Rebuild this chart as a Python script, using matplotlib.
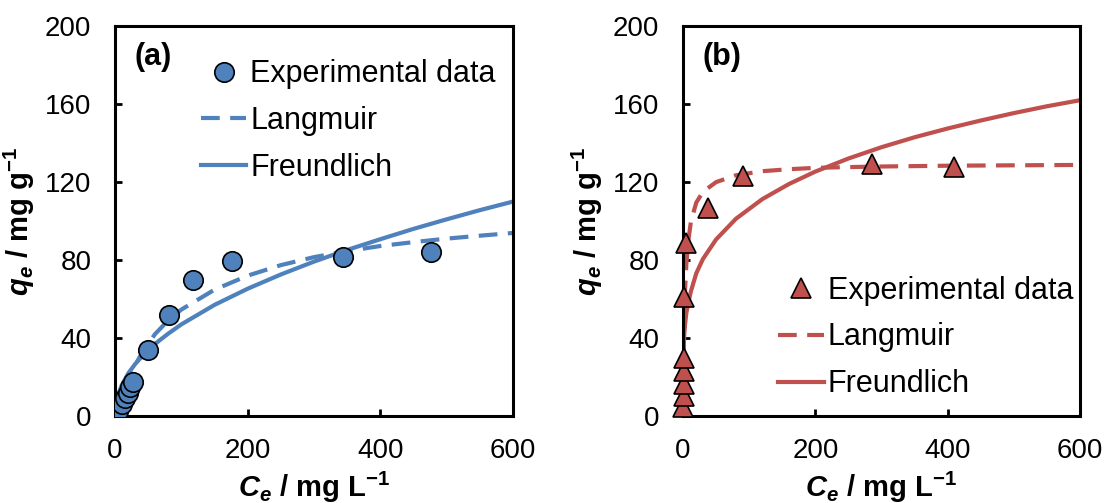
import matplotlib
matplotlib.use("Agg")
import matplotlib.pyplot as plt

plt.rcParams['font.family'] = ['Liberation Sans', 'DejaVu Sans']
plt.rcParams['mathtext.fontset'] = 'custom'
plt.rcParams['mathtext.rm'] = 'Liberation Sans'
plt.rcParams['mathtext.it'] = 'Liberation Sans:italic'
plt.rcParams['mathtext.bf'] = 'Liberation Sans:bold'
plt.rcParams['mathtext.bfit'] = 'Liberation Sans:italic:bold'

# (a) experimental data
ce_a = [4, 10, 15, 20, 23, 27, 50, 81, 118, 176, 344, 477]
qe_a = [2.6, 6, 9, 12, 15, 17.5, 34, 52, 70, 79.5, 81.5, 84]
# (a) fitted curves
c_fit_a = [0, 0.5, 1, 2, 5, 10, 20, 30, 40, 60, 80, 100, 150, 200, 250, 300, 350, 400, 450, 500, 550, 600]
lang_a = [0, 0.6, 1.1, 2.2, 5.4, 10.3, 18.8, 25.9, 32.0, 41.9, 49.0, 54.6, 64.8, 72.0, 77.4, 81.5,
          84.6, 87.2, 89.2, 91.0, 92.5, 93.9]
freu_a = [0, 3.8, 5.3, 7.3, 11.3, 15.7, 21.9, 26.5, 30.4, 36.9, 42.2, 47.0, 57.0, 65.3, 72.6, 79.2,
          85.2, 90.7, 96.0, 100.9, 105.6, 110.0]

# (b) experimental data
ce_b = [0.5, 0.7, 0.9, 1.1, 1.3, 1.5, 4, 38, 90, 286, 410]
qe_b = [4.5, 10.5, 16.5, 23, 30, 61, 89, 106.5, 123.3, 129.3, 127.5]
# (b) fitted curves
c_fit_b = [0, 0.1, 0.5, 1, 2, 3, 5, 8, 12, 20, 30, 50, 80, 120, 160, 200, 250, 300, 350, 400, 450, 500, 550, 600]
lang_b = [0, 4.2, 18.5, 32.0, 51.5, 64.4, 78.0, 90.0, 100.0, 109.5, 115.0, 120.0, 123.5, 125.6, 126.6,
          127.3, 127.7, 128.0, 128.2, 128.4, 128.5, 128.6, 128.7, 128.8]
freu_b = [0, 21.2, 30.9, 36.3, 42.7, 46.9, 52.9, 58.2, 64.1, 73.2, 80.5, 90.6, 101.2, 111.3, 119.0,
          125.4, 132.1, 137.9, 143.0, 147.5, 151.6, 155.4, 158.9, 162.0]

blue = '#4F81BD'
red = '#C0504D'
fs_tick = 20
fs_leg = 22
fs_lab = 21

fig = plt.figure(figsize=(11.04, 5.03), dpi=100)
ax_a = fig.add_axes([0.1042, 0.173, 0.3605, 0.775])
ax_b = fig.add_axes([0.6187, 0.173, 0.3596, 0.775])


def style(ax):
    ax.set_xlim(0, 600)
    ax.set_ylim(0, 200)
    ax.set_xticks([0, 200, 400, 600])
    ax.set_yticks([0, 40, 80, 120, 160, 200])
    for s in ax.spines.values():
        s.set_linewidth(2.2)
    ax.tick_params(direction='in', length=5, width=2, labelsize=fs_tick)
    ax.tick_params(axis='y', pad=17)
    ax.tick_params(axis='x', pad=16)
    ax.set_xlabel(r'$\mathbfit{C}_{\mathbfit{e}}$ / mg L$^{\mathbf{-1}}$', fontsize=fs_lab,
                  fontweight='bold', labelpad=4)
    ax.set_ylabel(r'$\mathbfit{q}_{\mathbfit{e}}$ / mg g$^{\mathbf{-1}}$', fontsize=fs_lab,
                  fontweight='bold', labelpad=6)


# panel (a)
ax_a.plot(c_fit_a, lang_a, color=blue, lw=3, dashes=(4.5, 2.5), label='Langmuir', zorder=2)
ax_a.plot(c_fit_a, freu_a, color=blue, lw=3, label='Freundlich', zorder=2)
ax_a.plot(ce_a, qe_a, 'o', ms=14, mfc=blue, mec='black', mew=1.2, label='Experimental data', zorder=3)
style(ax_a)
ax_a.text(0.05, 0.92, '(a)', transform=ax_a.transAxes, fontsize=fs_leg, fontweight='bold', va='center')
h, l = ax_a.get_legend_handles_labels()
ax_a.legend([h[2], h[0], h[1]], [l[2], l[0], l[1]], loc='upper left', bbox_to_anchor=(0.215, 0.915),
            frameon=False, fontsize=fs_leg, handlelength=1.5, handletextpad=0.12, labelspacing=0.55,
            borderaxespad=0, borderpad=0)

# panel (b)
ax_b.plot(c_fit_b, lang_b, color=red, lw=3, dashes=(4.5, 2.5), label='Langmuir', zorder=2)
ax_b.plot(c_fit_b, freu_b, color=red, lw=3, label='Freundlich', zorder=2)
ax_b.plot(ce_b, qe_b, '^', ms=15, mfc=red, mec='black', mew=1.2, label='Experimental data', zorder=3,
          clip_on=False)
style(ax_b)
ax_b.text(0.05, 0.92, '(b)', transform=ax_b.transAxes, fontsize=fs_leg, fontweight='bold', va='center')
h, l = ax_b.get_legend_handles_labels()
ax_b.legend([h[2], h[0], h[1]], [l[2], l[0], l[1]], loc='upper left', bbox_to_anchor=(0.24, 0.36),
            frameon=False, fontsize=fs_leg, handlelength=1.5, handletextpad=0.12, labelspacing=0.55,
            borderaxespad=0, borderpad=0)

fig.savefig('out.png', dpi=100)
